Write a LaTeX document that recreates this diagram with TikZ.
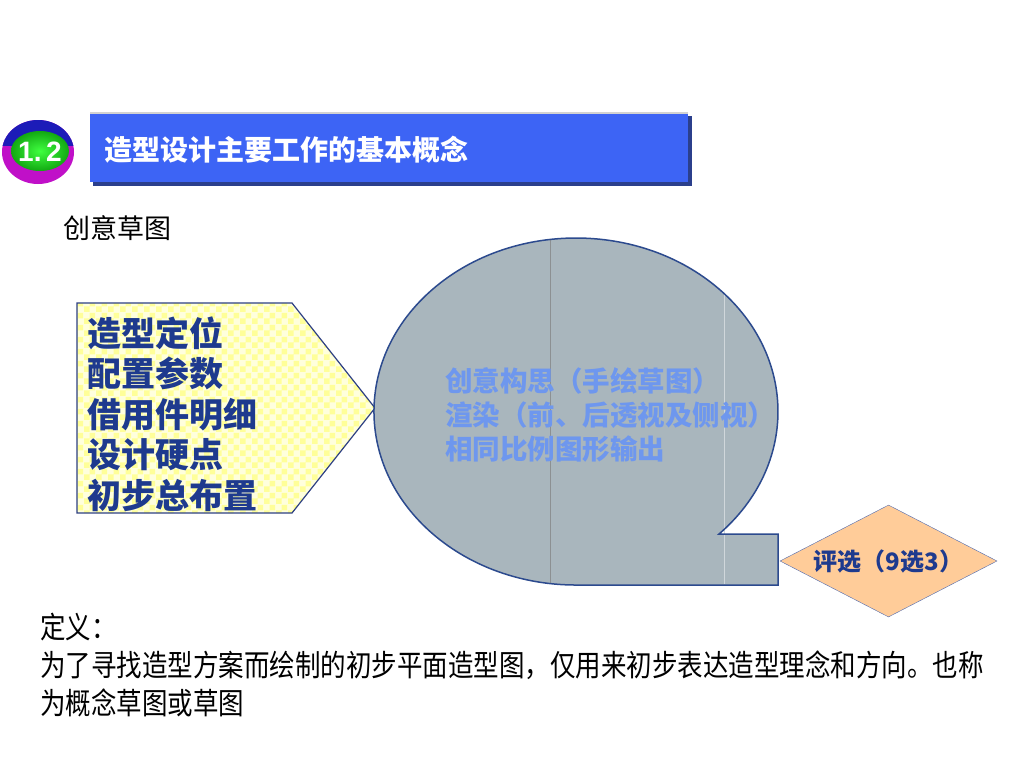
\documentclass[tikz,border=0pt]{standalone}
\usepackage{fontspec}
\setmainfont{Noto Sans CJK SC}
\newfontfamily\latinfont{Liberation Sans}
\newfontfamily\tallcjk[FakeStretch=0.85]{Noto Sans CJK SC}
\usetikzlibrary{shapes.geometric,patterns}

\definecolor{titleblue}{HTML}{3D64F5}
\definecolor{titleshadow}{HTML}{2B3F8C}
\definecolor{badgeblue}{HTML}{1C1CB8}
\definecolor{badgemagenta}{HTML}{C010C8}
\definecolor{badgegreen}{HTML}{12A812}
\definecolor{checkyellow}{HTML}{FFFF99}
\definecolor{checkpale}{HTML}{FFFFDD}
\definecolor{pentaborder}{HTML}{2D3F84}
\definecolor{pentatext}{HTML}{1E3A8E}
\definecolor{blobfill}{HTML}{A9B6BD}
\definecolor{blobborder}{HTML}{2C4A8E}
\definecolor{blobtext}{HTML}{6E97EE}
\definecolor{diamondfill}{HTML}{FFCC99}
\definecolor{diamondborder}{HTML}{4E6AB0}

\pgfdeclarepatternformonly{yellowchecks}{\pgfqpoint{0pt}{0pt}}{\pgfqpoint{12pt}{12pt}}{\pgfqpoint{12pt}{12pt}}{%
  \pgfpathrectangle{\pgfqpoint{0pt}{0pt}}{\pgfqpoint{6pt}{6pt}}%
  \pgfpathrectangle{\pgfqpoint{6pt}{6pt}}{\pgfqpoint{6pt}{6pt}}%
  \pgfusepath{fill}}

\begin{document}
\begin{tikzpicture}[x=1pt,y=-1pt,
  bodytext/.style={anchor=west,inner sep=0pt,align=left}]
  \useasboundingbox[fill=white] (0,0) rectangle (1024,768);
  % badge
  \fill[badgemagenta] (38,152) ellipse (36 and 32);
  \begin{scope}
    \clip (0,100) rectangle (80,145);
    \fill[badgeblue] (38,152) ellipse (36 and 32);
  \end{scope}
  \shade[inner color=green!75!white, outer color=badgegreen] (40,151) ellipse (29 and 20);
  \node[font=\latinfont\bfseries\fontsize{28}{28}\selectfont, text=white] (badge) at (40,152) {1.\,2};
  % title bar
  \fill[titleshadow] (93,116) rectangle (692,186);
  \fill[titleblue] (90,113) rectangle (688,182);
  \draw[gray!35, line width=1.5pt] (90,113) -- (688,113);
  \node[bodytext, text=white, font=\fontsize{28}{28}\selectfont\bfseries] (title) at (104,150) {造型设计主要工作的基本概念};
  \node[bodytext, font=\fontsize{27}{27}\selectfont] (sketch) at (63,228) {创意草图};
  % arrow box on the left
  \draw[pentaborder, line width=1.2pt, preaction={fill=checkpale},
    preaction={pattern=yellowchecks, pattern color=checkyellow}]
    (77,303) -- (292,303) -- (375,408) -- (292,513) -- (77,513) -- cycle;
  \node[bodytext, text=pentatext, font=\fontsize{34}{40.5}\selectfont\bfseries] (specs) at (87,414)
    {造型定位\\配置参数\\借用件明细\\设计硬点\\初步总布置};
  % bubble
  \fill[blobfill] (576,585) -- (778,585) -- (778,534) -- (718.8,534.2)
    arc[start angle=45, end angle=-270, x radius=202, y radius=173.5] -- cycle;
  \draw[gray!70!blobfill] (550,240) -- (550,584);
  \draw[white!45!blobfill] (724,294) -- (724,584);
  \draw[blobborder, line width=1.5pt] (576,585) -- (778,585) -- (778,534) -- (718.8,534.2)
    arc[start angle=45, end angle=-270, x radius=202, y radius=173.5] -- cycle;
  \node[bodytext, text=blobtext, font=\fontsize{27.5}{34}\selectfont\bfseries] (ideas) at (445,415)
    {创意构思（手绘草图）\\渲染（前、后透视及侧视）\\相同比例图形输出};
  % selection
  \node[diamond, shape aspect=1.94, draw=diamondborder, fill=diamondfill,
    minimum width=217pt, minimum height=112pt, inner sep=0pt, text=pentatext,
    font=\fontsize{24}{24}\selectfont\bfseries] (vote) at (888.5,561) {评选（9选3）\hspace{8pt}};
  % definition
  \node[bodytext, font=\tallcjk\fontsize{30}{38}\selectfont] (definition) at (40,665)
    {定义：\\为了寻找造型方案而绘制的初步平面造型图，仅用来初步表达造型理念和方向。也称\\为概念草图或草图};
\end{tikzpicture}
\end{document}
